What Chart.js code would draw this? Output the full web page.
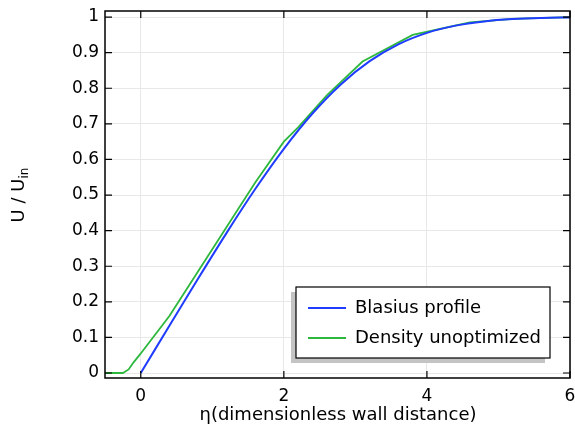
<!DOCTYPE html>
<html>
<head>
<meta charset="utf-8">
<script src="https://cdn.jsdelivr.net/npm/chart.js@4/dist/chart.umd.min.js"></script>
<style>
    body { margin: 0; background: #fff; }
    #wrap { width: 575px; height: 426px; }
</style>
</head>
<body>
<div id="wrap"><canvas id="profileChart" width="575" height="426"></canvas></div>
<script>
"use strict";

// Blasius profile (eta, U/Uin)
var blasiusEta = [0, 0.4, 0.8, 1.2, 1.6, 2.0, 2.4, 2.8, 3.2, 3.6, 4.0, 4.4, 4.8, 5.2, 5.6, 6.0];
var blasiusU = [0, 0.1328, 0.2647, 0.3938, 0.5168, 0.6298, 0.7290, 0.8115, 0.8761, 0.9233, 0.9555, 0.9759, 0.9878, 0.9943, 0.9975, 0.9990];

// density unoptimized
var densityEta = [-0.5, -0.25, -0.17, -0.1, 0, 0.4, 0.8, 1.2, 1.6, 2.0, 2.2, 2.6, 3.1, 3.8, 4.6, 5.2, 6.0];
var densityU = [0, 0, 0.01, 0.03, 0.055, 0.16, 0.285, 0.41, 0.535, 0.65, 0.69, 0.78, 0.875, 0.95, 0.985, 0.995, 1.0];

var xTicks = [0, 2, 4, 6];
var yTicks = [0, 0.1, 0.2, 0.3, 0.4, 0.5, 0.6, 0.7, 0.8, 0.9, 1];
var seriesLabels = ["Blasius profile", "Density unoptimized"];
var seriesColors = ["#1f3cff", "#2db83d"];

var FONT = "'DejaVu Sans', sans-serif";

function toPoints(xs, ys) {
    return xs.map(function(x, i) { return { x: x, y: ys[i] }; });
}

// frame, inward ticks, axis title, legend
var decorPlugin = {
    id: "decor",
    afterDraw: function(chart) {
        var ctx = chart.ctx;
        var area = chart.chartArea;
        var xs = chart.scales.x, ys = chart.scales.y;
        ctx.save();
        ctx.strokeStyle = "#000";
        ctx.lineWidth = 1.5;
        ctx.strokeRect(area.left, area.top, area.right - area.left, area.bottom - area.top);

        ctx.lineWidth = 1.2;
        ctx.beginPath();
        xTicks.forEach(function(v) {
            var px = xs.getPixelForValue(v);
            ctx.moveTo(px, area.bottom); ctx.lineTo(px, area.bottom - 7);
            ctx.moveTo(px, area.top); ctx.lineTo(px, area.top + 7);
        });
        yTicks.forEach(function(v) {
            var py = ys.getPixelForValue(v);
            ctx.moveTo(area.left, py); ctx.lineTo(area.left + 7, py);
            ctx.moveTo(area.right, py); ctx.lineTo(area.right - 7, py);
        });
        ctx.stroke();

        // axis titles
        ctx.fillStyle = "#000";
        ctx.font = "18px " + FONT;
        ctx.textAlign = "center";
        ctx.textBaseline = "alphabetic";
        ctx.fillText("\u03b7(dimensionless wall distance)", 338, 420);

        ctx.save();
        ctx.translate(24, 195);
        ctx.rotate(-Math.PI / 2);
        ctx.textAlign = "left";
        var main = "U / U";
        var w = ctx.measureText(main).width;
        ctx.font = "12px " + FONT;
        var wSub = ctx.measureText("in").width;
        var start = -(w + wSub) / 2;
        ctx.font = "18px " + FONT;
        ctx.fillText(main, start, 0);
        ctx.font = "12px " + FONT;
        ctx.fillText("in", start + w, 4);
        ctx.restore();

        // legend with shadow
        var lx = 296, ly = 287, lw = 254, lh = 71;
        ctx.fillStyle = "#c4c4c4";
        ctx.fillRect(lx - 5, ly + 5, lw, lh);
        ctx.fillStyle = "#fff";
        ctx.fillRect(lx, ly, lw, lh);
        ctx.strokeStyle = "#000";
        ctx.lineWidth = 1.2;
        ctx.strokeRect(lx, ly, lw, lh);
        ctx.font = "18px " + FONT;
        ctx.textAlign = "left";
        ctx.textBaseline = "middle";
        seriesLabels.forEach(function(label, i) {
            var yy = ly + 21 + i * 30;
            ctx.strokeStyle = seriesColors[i];
            ctx.lineWidth = 1.8;
            ctx.beginPath();
            ctx.moveTo(lx + 12, yy);
            ctx.lineTo(lx + 50, yy);
            ctx.stroke();
            ctx.fillStyle = "#000";
            ctx.fillText(label, lx + 59, yy);
        });
        ctx.restore();
    }
};

var ctx = document.getElementById("profileChart");

new Chart(ctx, {
    type: "line",
    data: {
        datasets: [{
            label: seriesLabels[0],
            data: toPoints(blasiusEta, blasiusU),
            borderColor: seriesColors[0],
            borderWidth: 2,
            pointRadius: 0,
            tension: 0.3,
            fill: false
        }, {
            label: seriesLabels[1],
            data: toPoints(densityEta, densityU),
            borderColor: seriesColors[1],
            borderWidth: 1.8,
            pointRadius: 0,
            tension: 0,
            fill: false
        }]
    },
    options: {
        responsive: false,
        animation: false,
        layout: { padding: { left: 0, right: 5, top: 11, bottom: 0 } },
        plugins: {
            legend: { display: false },
            tooltip: { enabled: false }
        },
        scales: {
            x: {
                type: "linear",
                min: -0.5,
                max: 6,
                afterBuildTicks: function(scale) {
                    scale.ticks = xTicks.map(function(v) { return { value: v }; });
                },
                afterFit: function(scale) {
                    scale.height = 48;
                    scale.paddingLeft = 0;
                    scale.paddingRight = 0;
                },
                ticks: {
                    color: "#000",
                    font: { family: FONT, size: 17 },
                    padding: 8,
                    maxRotation: 0,
                    callback: function(v) { return String(v); }
                },
                grid: { color: "#e8e8e8", drawTicks: false, lineWidth: 1 },
                border: { display: false }
            },
            y: {
                type: "linear",
                min: -0.014,
                max: 1.017,
                afterBuildTicks: function(scale) {
                    scale.ticks = yTicks.map(function(v) { return { value: v }; });
                },
                afterFit: function(scale) {
                    scale.width = 105;
                    scale.paddingTop = 0;
                    scale.paddingBottom = 0;
                },
                ticks: {
                    color: "#000",
                    font: { family: FONT, size: 17 },
                    padding: 6,
                    callback: function(v) { return String(Math.round(v * 10) / 10); }
                },
                grid: { color: "#e8e8e8", drawTicks: false, lineWidth: 1 },
                border: { display: false }
            }
        }
    },
    plugins: [decorPlugin]
});
</script>
</body>
</html>
